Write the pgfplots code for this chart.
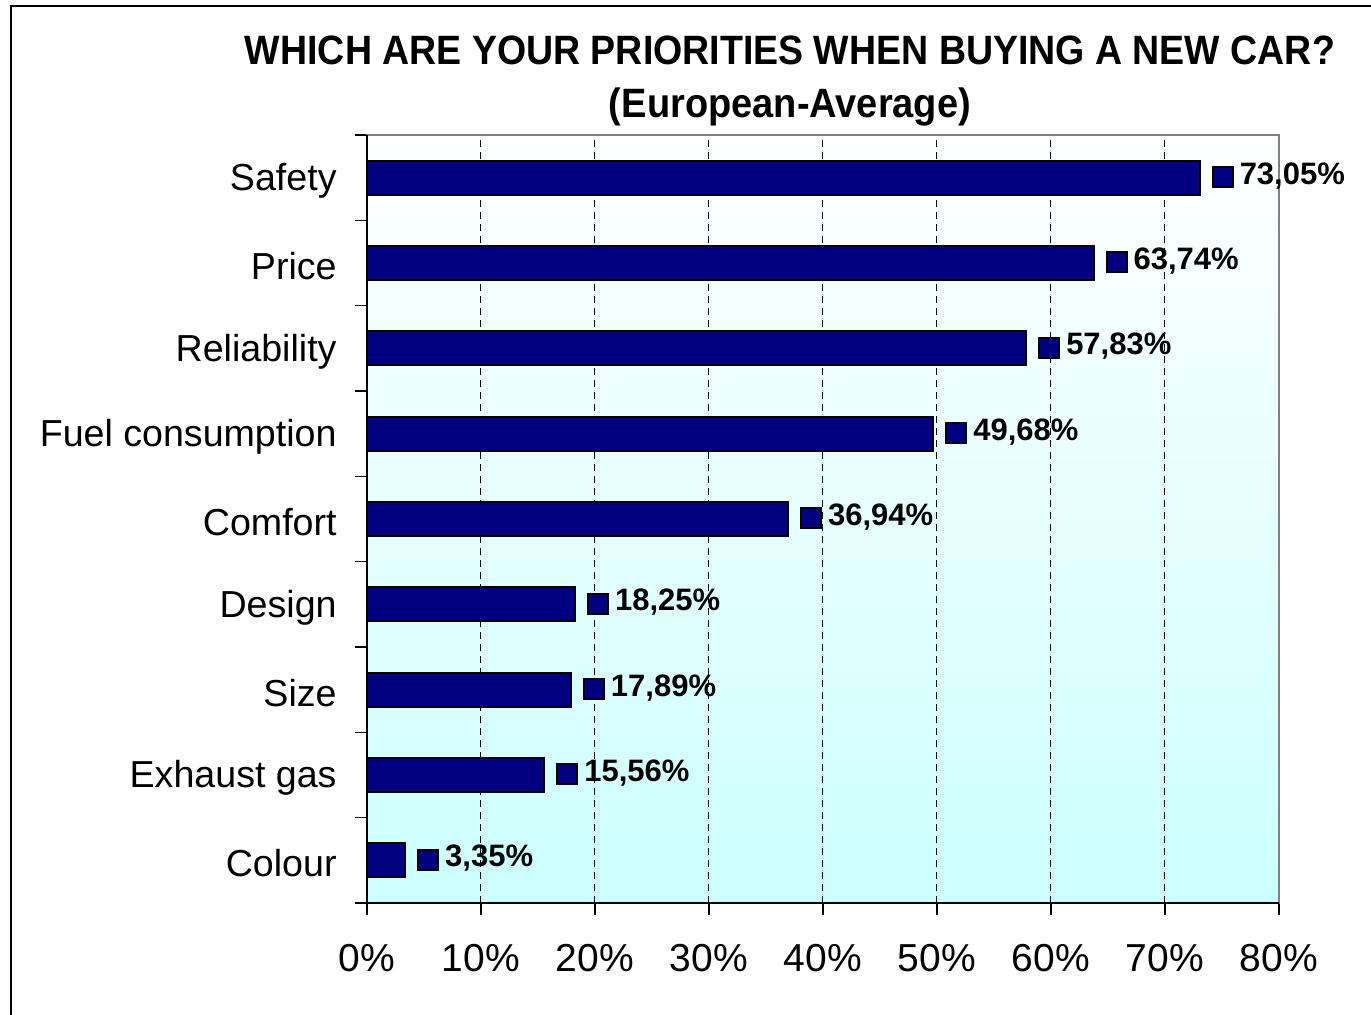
\documentclass[border=0pt]{standalone}
\usepackage{pgfplots}
\pgfplotsset{compat=1.18}
\usepackage{fontspec}
\setmainfont{Liberation Sans}

\definecolor{barblue}{RGB}{0,0,128}
\definecolor{plotcyan}{RGB}{204,255,255}
\definecolor{framegray}{RGB}{128,128,128}

% small legend key drawn before each value label
\newcommand{\datakey}{{\setlength\fboxsep{0pt}\setlength\fboxrule{1pt}%
  \raisebox{-1pt}{\fcolorbox{black}{barblue}{\rule{0pt}{9pt}\rule{9pt}{0pt}}}}}

\begin{document}
\begin{tikzpicture}
\begin{axis}[
  at={(0,0)}, anchor=south west,
  scale only axis,
  width=456pt, height=384pt,
  xbar, bar width=17pt,
  xmin=0, xmax=80,
  ymin=-0.5, ymax=8.5,
  /pgf/number format/assume math mode=true,
  xtick={0,10,...,80},
  xticklabel={\pgfmathprintnumber{\tick}\%},
  ytick={0,...,8},
  yticklabels={Colour,Exhaust gas,Size,Design,Comfort,Fuel consumption,Reliability,Price,Safety},
  minor ytick={-0.5,0.5,...,8.5},
  xtick pos=bottom, ytick pos=left,
  major tick length=0pt,
  minor tick length=6pt,
  tick align=outside,
  x tick style={black, line width=0.6pt, /pgfplots/major tick length=6pt},
  minor y tick style={black, line width=0.6pt},
  xticklabel style={anchor=base, inner sep=0pt, yshift=-34.5pt, font=\fontsize{19.5}{23}\selectfont},
  yticklabel style={anchor=east, inner sep=0pt, xshift=-15pt, yshift=-1.5pt, font=\fontsize{18.8}{22}\selectfont},
  xmajorgrids,
  major x grid style={black, line width=0.5pt, dash pattern=on 3.5pt off 2.5pt},
  axis line style={framegray, line width=1pt},
  axis background/.style={shade, top color=white, bottom color=plotcyan},
  point meta=x,
  nodes near coords={\datakey\hspace{3pt}\pgfmathprintnumber[fixed,fixed zerofill,precision=2,use comma]{\pgfplotspointmeta}\%},
  every node near coord/.append style={anchor=west, inner sep=0pt, xshift=5.5pt, yshift=1pt,
    font=\bfseries\fontsize{15.5}{18}\selectfont, black},
]
\addplot [fill=barblue, draw=black, line width=1pt] coordinates {
(3.35,0)
(15.56,1)
(17.89,2)
(18.25,3)
(36.94,4)
(49.68,5)
(57.83,6)
(63.74,7)
(73.05,8)
};
\end{axis}
% dark left and bottom axis lines
\draw[black, line width=0.8pt] (0,384pt) -- (0,0) -- (456pt,0);
% title
\node[anchor=base, font=\bfseries\fontsize{20.5}{24}\selectfont] at (211.5pt,419pt)
  {\resizebox{545pt}{\height}{WHICH ARE YOUR PRIORITIES WHEN BUYING A NEW CAR?}};
\node[anchor=base, font=\bfseries\fontsize{20.5}{24}\selectfont] at (211.5pt,392.5pt)
  {\resizebox{181pt}{\height}{(European-Average)}};
\pgfresetboundingbox
\path[use as bounding box] (-183.5pt,-56pt) rectangle (502pt,451.5pt);
% outer chart border (left and top visible)
\draw[black, line width=0.8pt] (-178pt,-60pt) -- (-178pt,448.5pt) -- (510pt,448.5pt);
\end{tikzpicture}
\end{document}
